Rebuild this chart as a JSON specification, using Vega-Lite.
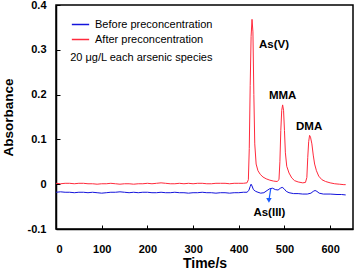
{
  "$schema": "https://vega.github.io/schema/vega-lite/v6.json",
  "autosize": "none",
  "width": 297,
  "height": 224,
  "padding": {"left": 56, "top": 5, "right": 3, "bottom": 50},
  "background": "white",
  "config": {
    "font": "Liberation Sans",
    "view": {"stroke": "black", "strokeWidth": 1.5},
    "axis": {
      "grid": false,
      "domainColor": "black",
      "domainWidth": 1.5,
      "tickColor": "black",
      "tickWidth": 1,
      "tickSize": -4,
      "labelFont": "Liberation Sans",
      "labelFontWeight": "bold",
      "labelFontSize": 11,
      "labelColor": "black",
      "titleFont": "Liberation Sans",
      "titleFontWeight": "bold",
      "titleColor": "black"
    }
  },
  "datasets": {
    "traces": [
      {"t": 0, "v": 0.002, "s": "After preconcentration"},
      {"t": 10, "v": 0.001, "s": "After preconcentration"},
      {"t": 20, "v": 0.002, "s": "After preconcentration"},
      {"t": 30, "v": 0.002, "s": "After preconcentration"},
      {"t": 40, "v": 0.001, "s": "After preconcentration"},
      {"t": 50, "v": 0.002, "s": "After preconcentration"},
      {"t": 60, "v": 0.002, "s": "After preconcentration"},
      {"t": 70, "v": 0.001, "s": "After preconcentration"},
      {"t": 80, "v": 0.001, "s": "After preconcentration"},
      {"t": 90, "v": 0.0, "s": "After preconcentration"},
      {"t": 100, "v": 0.001, "s": "After preconcentration"},
      {"t": 110, "v": 0.001, "s": "After preconcentration"},
      {"t": 120, "v": 0.002, "s": "After preconcentration"},
      {"t": 130, "v": 0.001, "s": "After preconcentration"},
      {"t": 140, "v": 0.0, "s": "After preconcentration"},
      {"t": 150, "v": 0.001, "s": "After preconcentration"},
      {"t": 160, "v": 0.001, "s": "After preconcentration"},
      {"t": 170, "v": 0.0, "s": "After preconcentration"},
      {"t": 180, "v": 0.001, "s": "After preconcentration"},
      {"t": 190, "v": 0.001, "s": "After preconcentration"},
      {"t": 200, "v": 0.002, "s": "After preconcentration"},
      {"t": 210, "v": 0.001, "s": "After preconcentration"},
      {"t": 220, "v": 0.002, "s": "After preconcentration"},
      {"t": 230, "v": 0.003, "s": "After preconcentration"},
      {"t": 240, "v": 0.002, "s": "After preconcentration"},
      {"t": 250, "v": 0.001, "s": "After preconcentration"},
      {"t": 260, "v": 0.001, "s": "After preconcentration"},
      {"t": 270, "v": 0.002, "s": "After preconcentration"},
      {"t": 280, "v": 0.001, "s": "After preconcentration"},
      {"t": 290, "v": 0.002, "s": "After preconcentration"},
      {"t": 300, "v": 0.001, "s": "After preconcentration"},
      {"t": 310, "v": 0.002, "s": "After preconcentration"},
      {"t": 320, "v": 0.002, "s": "After preconcentration"},
      {"t": 330, "v": 0.001, "s": "After preconcentration"},
      {"t": 340, "v": 0.001, "s": "After preconcentration"},
      {"t": 350, "v": 0.002, "s": "After preconcentration"},
      {"t": 360, "v": 0.002, "s": "After preconcentration"},
      {"t": 370, "v": 0.002, "s": "After preconcentration"},
      {"t": 380, "v": 0.001, "s": "After preconcentration"},
      {"t": 390, "v": 0.002, "s": "After preconcentration"},
      {"t": 400, "v": 0.002, "s": "After preconcentration"},
      {"t": 410, "v": 0.002, "s": "After preconcentration"},
      {"t": 418, "v": 0.003, "s": "After preconcentration"},
      {"t": 421, "v": 0.01, "s": "After preconcentration"},
      {"t": 423, "v": 0.08, "s": "After preconcentration"},
      {"t": 425, "v": 0.22, "s": "After preconcentration"},
      {"t": 427, "v": 0.33, "s": "After preconcentration"},
      {"t": 429, "v": 0.368, "s": "After preconcentration"},
      {"t": 431, "v": 0.34, "s": "After preconcentration"},
      {"t": 433, "v": 0.2, "s": "After preconcentration"},
      {"t": 435, "v": 0.09, "s": "After preconcentration"},
      {"t": 438, "v": 0.045, "s": "After preconcentration"},
      {"t": 442, "v": 0.03, "s": "After preconcentration"},
      {"t": 447, "v": 0.022, "s": "After preconcentration"},
      {"t": 453, "v": 0.016, "s": "After preconcentration"},
      {"t": 460, "v": 0.012, "s": "After preconcentration"},
      {"t": 468, "v": 0.009, "s": "After preconcentration"},
      {"t": 476, "v": 0.007, "s": "After preconcentration"},
      {"t": 484, "v": 0.006, "s": "After preconcentration"},
      {"t": 488, "v": 0.01, "s": "After preconcentration"},
      {"t": 490, "v": 0.05, "s": "After preconcentration"},
      {"t": 492, "v": 0.12, "s": "After preconcentration"},
      {"t": 494, "v": 0.165, "s": "After preconcentration"},
      {"t": 496, "v": 0.177, "s": "After preconcentration"},
      {"t": 498, "v": 0.165, "s": "After preconcentration"},
      {"t": 500, "v": 0.12, "s": "After preconcentration"},
      {"t": 502, "v": 0.07, "s": "After preconcentration"},
      {"t": 505, "v": 0.04, "s": "After preconcentration"},
      {"t": 510, "v": 0.025, "s": "After preconcentration"},
      {"t": 516, "v": 0.014, "s": "After preconcentration"},
      {"t": 522, "v": 0.008, "s": "After preconcentration"},
      {"t": 530, "v": 0.005, "s": "After preconcentration"},
      {"t": 540, "v": 0.003, "s": "After preconcentration"},
      {"t": 546, "v": 0.004, "s": "After preconcentration"},
      {"t": 549, "v": 0.015, "s": "After preconcentration"},
      {"t": 551, "v": 0.06, "s": "After preconcentration"},
      {"t": 553, "v": 0.095, "s": "After preconcentration"},
      {"t": 555, "v": 0.109, "s": "After preconcentration"},
      {"t": 557, "v": 0.105, "s": "After preconcentration"},
      {"t": 560, "v": 0.09, "s": "After preconcentration"},
      {"t": 563, "v": 0.065, "s": "After preconcentration"},
      {"t": 566, "v": 0.045, "s": "After preconcentration"},
      {"t": 570, "v": 0.03, "s": "After preconcentration"},
      {"t": 575, "v": 0.018, "s": "After preconcentration"},
      {"t": 582, "v": 0.01, "s": "After preconcentration"},
      {"t": 590, "v": 0.006, "s": "After preconcentration"},
      {"t": 600, "v": 0.003, "s": "After preconcentration"},
      {"t": 610, "v": 0.001, "s": "After preconcentration"},
      {"t": 620, "v": 0.0, "s": "After preconcentration"},
      {"t": 630, "v": -0.001, "s": "After preconcentration"},
      {"t": 634, "v": -0.001, "s": "After preconcentration"},
      {"t": 0, "v": -0.018, "s": "Before preconcentration"},
      {"t": 10, "v": -0.017, "s": "Before preconcentration"},
      {"t": 20, "v": -0.018, "s": "Before preconcentration"},
      {"t": 30, "v": -0.018, "s": "Before preconcentration"},
      {"t": 40, "v": -0.019, "s": "Before preconcentration"},
      {"t": 50, "v": -0.018, "s": "Before preconcentration"},
      {"t": 60, "v": -0.018, "s": "Before preconcentration"},
      {"t": 70, "v": -0.019, "s": "Before preconcentration"},
      {"t": 80, "v": -0.018, "s": "Before preconcentration"},
      {"t": 90, "v": -0.019, "s": "Before preconcentration"},
      {"t": 100, "v": -0.02, "s": "Before preconcentration"},
      {"t": 110, "v": -0.019, "s": "Before preconcentration"},
      {"t": 120, "v": -0.018, "s": "Before preconcentration"},
      {"t": 130, "v": -0.018, "s": "Before preconcentration"},
      {"t": 140, "v": -0.017, "s": "Before preconcentration"},
      {"t": 150, "v": -0.018, "s": "Before preconcentration"},
      {"t": 160, "v": -0.019, "s": "Before preconcentration"},
      {"t": 170, "v": -0.018, "s": "Before preconcentration"},
      {"t": 180, "v": -0.019, "s": "Before preconcentration"},
      {"t": 190, "v": -0.018, "s": "Before preconcentration"},
      {"t": 200, "v": -0.018, "s": "Before preconcentration"},
      {"t": 210, "v": -0.019, "s": "Before preconcentration"},
      {"t": 220, "v": -0.019, "s": "Before preconcentration"},
      {"t": 230, "v": -0.018, "s": "Before preconcentration"},
      {"t": 240, "v": -0.019, "s": "Before preconcentration"},
      {"t": 250, "v": -0.019, "s": "Before preconcentration"},
      {"t": 260, "v": -0.018, "s": "Before preconcentration"},
      {"t": 270, "v": -0.019, "s": "Before preconcentration"},
      {"t": 280, "v": -0.019, "s": "Before preconcentration"},
      {"t": 290, "v": -0.02, "s": "Before preconcentration"},
      {"t": 300, "v": -0.019, "s": "Before preconcentration"},
      {"t": 310, "v": -0.019, "s": "Before preconcentration"},
      {"t": 320, "v": -0.018, "s": "Before preconcentration"},
      {"t": 330, "v": -0.019, "s": "Before preconcentration"},
      {"t": 340, "v": -0.019, "s": "Before preconcentration"},
      {"t": 350, "v": -0.02, "s": "Before preconcentration"},
      {"t": 360, "v": -0.019, "s": "Before preconcentration"},
      {"t": 370, "v": -0.019, "s": "Before preconcentration"},
      {"t": 380, "v": -0.02, "s": "Before preconcentration"},
      {"t": 390, "v": -0.019, "s": "Before preconcentration"},
      {"t": 400, "v": -0.019, "s": "Before preconcentration"},
      {"t": 410, "v": -0.018, "s": "Before preconcentration"},
      {"t": 418, "v": -0.018, "s": "Before preconcentration"},
      {"t": 422, "v": -0.014, "s": "Before preconcentration"},
      {"t": 425, "v": -0.005, "s": "Before preconcentration"},
      {"t": 427, "v": 0.0, "s": "Before preconcentration"},
      {"t": 429, "v": -0.004, "s": "Before preconcentration"},
      {"t": 432, "v": -0.012, "s": "Before preconcentration"},
      {"t": 437, "v": -0.016, "s": "Before preconcentration"},
      {"t": 442, "v": -0.018, "s": "Before preconcentration"},
      {"t": 448, "v": -0.02, "s": "Before preconcentration"},
      {"t": 455, "v": -0.019, "s": "Before preconcentration"},
      {"t": 462, "v": -0.014, "s": "Before preconcentration"},
      {"t": 468, "v": -0.01, "s": "Before preconcentration"},
      {"t": 474, "v": -0.009, "s": "Before preconcentration"},
      {"t": 480, "v": -0.012, "s": "Before preconcentration"},
      {"t": 486, "v": -0.013, "s": "Before preconcentration"},
      {"t": 491, "v": -0.009, "s": "Before preconcentration"},
      {"t": 495, "v": -0.007, "s": "Before preconcentration"},
      {"t": 499, "v": -0.01, "s": "Before preconcentration"},
      {"t": 504, "v": -0.016, "s": "Before preconcentration"},
      {"t": 510, "v": -0.019, "s": "Before preconcentration"},
      {"t": 520, "v": -0.021, "s": "Before preconcentration"},
      {"t": 530, "v": -0.021, "s": "Before preconcentration"},
      {"t": 540, "v": -0.022, "s": "Before preconcentration"},
      {"t": 550, "v": -0.022, "s": "Before preconcentration"},
      {"t": 558, "v": -0.02, "s": "Before preconcentration"},
      {"t": 563, "v": -0.016, "s": "Before preconcentration"},
      {"t": 567, "v": -0.014, "s": "Before preconcentration"},
      {"t": 571, "v": -0.016, "s": "Before preconcentration"},
      {"t": 576, "v": -0.02, "s": "Before preconcentration"},
      {"t": 585, "v": -0.022, "s": "Before preconcentration"},
      {"t": 600, "v": -0.022, "s": "Before preconcentration"},
      {"t": 615, "v": -0.023, "s": "Before preconcentration"},
      {"t": 625, "v": -0.023, "s": "Before preconcentration"},
      {"t": 634, "v": -0.024, "s": "Before preconcentration"}
    ],
    "peaks": [
      {"t": 477, "v": 0.31, "label": "As(V)"},
      {"t": 496, "v": 0.196, "label": "MMA"},
      {"t": 554, "v": 0.128, "label": "DMA"},
      {"t": 467, "v": -0.065, "label": "As(III)"}
    ],
    "note": [
      {"t": 31, "v": 0.281, "label": "20 μg/L each arsenic species"}
    ],
    "arrow": [
      {"t": 470, "v": -0.01, "t2": 466, "v2": -0.036}
    ]
  },
  "layer": [
    {
      "data": {"name": "traces"},
      "mark": {"type": "line", "strokeWidth": 1, "clip": true},
      "encoding": {
        "x": {
          "field": "t", "type": "quantitative",
          "scale": {"domain": [0, 650], "nice": false, "zero": false},
          "axis": {
            "values": [0, 100, 200, 300, 400, 500, 600],
            "labelPadding": 18,
            "title": "Time/s",
            "titleFontSize": 14,
            "titleX": 148.5,
            "titleY": 34,
            "titleBaseline": "middle"
          }
        },
        "y": {
          "field": "v", "type": "quantitative",
          "scale": {"domain": [-0.1, 0.4], "nice": false, "zero": false},
          "axis": {
            "values": [-0.1, 0, 0.1, 0.2, 0.3, 0.4],
            "labelExpr": "datum.value == 0 ? '0' : (datum.value < 0 ? '-' + format(-datum.value, '.1f') : format(datum.value, '.1f'))",
            "labelPadding": 14,
            "title": "Absorbance",
            "titleFontSize": 13.5,
            "titleX": -48,
            "titleY": 112,
            "titleAngle": -90,
            "titleAlign": "center",
            "titleBaseline": "middle"
          }
        },
        "color": {
          "field": "s", "type": "nominal",
          "scale": {
            "domain": ["Before preconcentration", "After preconcentration"],
            "range": ["#1414dc", "#ff2a3c"]
          },
          "legend": {
            "orient": "none",
            "legendX": 15,
            "legendY": 10,
            "title": null,
            "symbolType": "stroke",
            "symbolSize": 300,
            "symbolStrokeWidth": 1.5,
            "labelFontSize": 11,
            "labelFont": "Liberation Sans",
            "labelColor": "black",
            "labelOffset": 5,
            "rowPadding": -3,
            "padding": 0
          }
        },
        "detail": {"field": "s"},
        "order": {"field": "t", "type": "quantitative"}
      }
    },
    {
      "data": {"name": "peaks"},
      "mark": {"type": "text", "font": "Liberation Sans", "fontWeight": "bold", "fontSize": 11.5, "color": "black", "align": "center", "baseline": "middle"},
      "encoding": {
        "x": {"field": "t", "type": "quantitative"},
        "y": {"field": "v", "type": "quantitative"},
        "text": {"field": "label"}
      }
    },
    {
      "data": {"name": "note"},
      "mark": {"type": "text", "font": "Liberation Sans", "fontSize": 11, "color": "black", "align": "left", "baseline": "middle"},
      "encoding": {
        "x": {"field": "t", "type": "quantitative"},
        "y": {"field": "v", "type": "quantitative"},
        "text": {"field": "label"}
      }
    },
    {
      "data": {"name": "arrow"},
      "mark": {"type": "rule", "color": "#1a5cff", "strokeWidth": 1.2},
      "encoding": {
        "x": {"field": "t", "type": "quantitative"},
        "y": {"field": "v", "type": "quantitative"},
        "x2": {"field": "t2"},
        "y2": {"field": "v2"}
      }
    },
    {
      "data": {"name": "arrow"},
      "mark": {"type": "point", "shape": "triangle-down", "filled": true, "color": "#1a5cff", "size": 30, "opacity": 1},
      "encoding": {
        "x": {"field": "t2", "type": "quantitative"},
        "y": {"field": "v2", "type": "quantitative"}
      }
    }
  ]
}
